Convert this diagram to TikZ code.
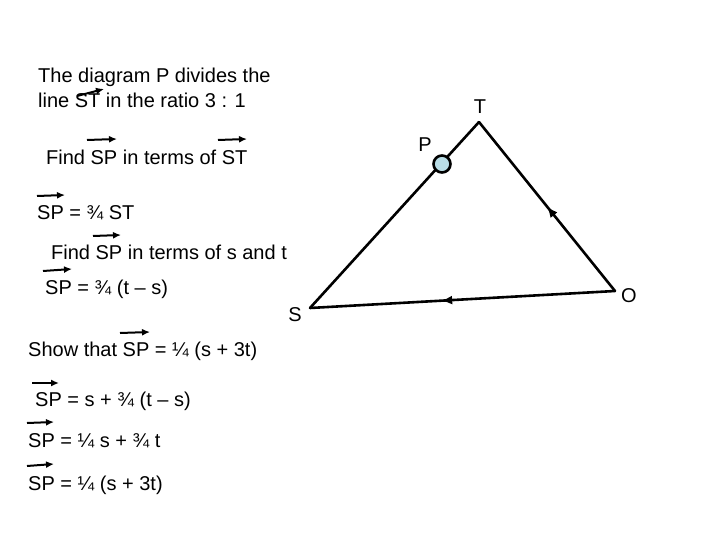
\documentclass[tikz,border=0pt]{standalone}
\usepackage{fontspec}
\setmainfont{Liberation Sans}
\usetikzlibrary{arrows.meta}
\usetikzlibrary{decorations.markings}

\definecolor{pointblue}{RGB}{185,221,230}

\begin{document}
\begin{tikzpicture}
[x=1pt,y=-1pt,
 txt/.style={anchor=base west,inner sep=0pt,font=\fontsize{20}{24}\selectfont},
 lbl/.style={inner sep=0pt,font=\fontsize{20}{24}\selectfont},
 vecarr/.style={line width=2pt,-{Latex[length=8pt,width=7pt]}},
 side/.style={line width=2.6pt,line cap=round},
 midarr/.style={postaction={decorate,decoration={markings,
   mark=at position #1 with {\arrow{Latex[length=11pt,width=9pt]}}}}}]
\useasboundingbox (0,0) rectangle (720,540);

% the working on the left
\node[txt] (l1) at (38,83) {The diagram P divides the};
\node[txt] (l2) at (38,108) {line ST in the ratio 3 : 1};
\node[txt] (l3) at (46,165) {Find SP in terms of ST};
\node[txt] (l4) at (37,220) {SP = ¾ ST};
\node[txt] (l5) at (51,259) {Find SP in terms of s and t};
\node[txt] (l6) at (45,294) {SP = ¾ (t – s)};
\node[txt] (l7) at (28,356) {Show that SP = ¼ (s + 3t)};
\node[txt] (l8) at (35,406) {SP = s + ¾ (t – s)};
\node[txt] (l9) at (28,447) {SP = ¼ s + ¾ t};
\node[txt] (l10) at (28,490) {SP = ¼ (s + 3t)};

% vector bars
\draw[vecarr] (77,96) -- (104,89);
\draw[vecarr] (87,140) -- (117,139);
\draw[vecarr] (218,140) -- (247,139);
\draw[vecarr] (37,196) -- (65,195);
\draw[vecarr] (93,236) -- (121,235);
\draw[vecarr] (43,271) -- (72,269);
\draw[vecarr] (120,333) -- (150,332);
\draw[vecarr] (32,383) -- (59,383);
\draw[vecarr] (27,423) -- (54,422);
\draw[vecarr] (27,466) -- (54,464);

% triangle
\coordinate (S) at (310,308);
\coordinate (T) at (479,122);
\coordinate (O) at (615,291);
\draw[side] (S) -- (T);
\draw[side,midarr=0.5] (O) -- (T);
\draw[side,midarr=0.57] (O) -- (S);
\node (P) at (442,164) [circle,draw,line width=2.6pt,fill=pointblue,minimum size=17pt,inner sep=0pt] {};

\node[lbl] (Slbl) at (295,315) {S};
\node[lbl] (Tlbl) at (480,107) {T};
\node[lbl] (Plbl) at (425,145) {P};
\node[lbl] (Olbl) at (629,296) {O};
\end{tikzpicture}
\end{document}
